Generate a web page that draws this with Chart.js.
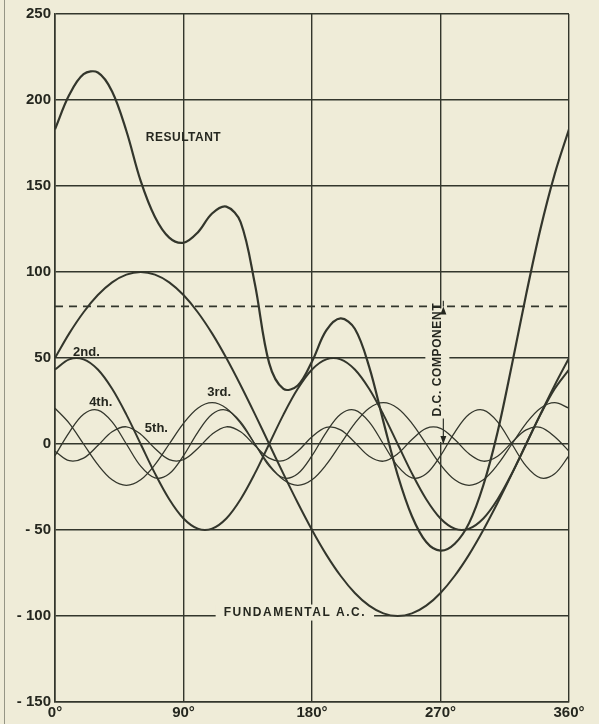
<!DOCTYPE html>
<html>
<head>
<meta charset="utf-8">
<script src="https://cdn.jsdelivr.net/npm/chart.js@4"></script>
<style>
    html, body { margin: 0; padding: 0; background: #efecd8; }
    #wrap { width: 599px; height: 724px; position: relative; }
</style>
</head>
<body>
<div id="wrap"><canvas id="harmonics"></canvas></div>
<script>
// angle in degrees, one sample every 10 degrees
const degrees = [0, 10, 20, 30, 40, 50, 60, 70, 80, 90, 100, 110, 120, 130, 140, 150, 160, 170, 180,
    190, 200, 210, 220, 230, 240, 250, 260, 270, 280, 290, 300, 310, 320, 330, 340, 350, 360];

// values
const fundamental = [50, 64.3, 76.6, 86.6, 94, 98.5, 100, 98.5, 94, 86.6, 76.6, 64.3, 50, 34.2, 17.4, 0,
    -17.4, -34.2, -50, -64.3, -76.6, -86.6, -94, -98.5, -100, -98.5, -94, -86.6, -76.6, -64.3, -50,
    -34.2, -17.4, 0, 17.4, 34.2, 50];
const second = [43.3, 49.2, 49.2, 43.3, 32.1, 17.1, 0, -17.1, -32.1, -43.3, -49.2, -49.2, -43.3, -32.1,
    -17.1, 0, 17.1, 32.1, 43.3, 49.2, 49.2, 43.3, 32.1, 17.1, 0, -17.1, -32.1, -43.3, -49.2, -49.2,
    -43.3, -32.1, -17.1, 0, 17.1, 32.1, 43.3];
const third = [20.8, 12, 0, -12, -20.8, -24, -20.8, -12, 0, 12, 20.8, 24, 20.8, 12, 0, -12, -20.8, -24,
    -20.8, -12, 0, 12, 20.8, 24, 20.8, 12, 0, -12, -20.8, -24, -20.8, -12, 0, 12, 20.8, 24, 20.8];
const fourth = [-6.8, 6.8, 17.3, 19.7, 12.9, 0, -12.9, -19.7, -17.3, -6.8, 6.8, 17.3, 19.7, 12.9, 0,
    -12.9, -19.7, -17.3, -6.8, 6.8, 17.3, 19.7, 12.9, 0, -12.9, -19.7, -17.3, -6.8, 6.8, 17.3, 19.7,
    12.9, 0, -12.9, -19.7, -17.3, -6.8];
const fifth = [-4.2, -9.7, -8.2, -0.9, 7.1, 10, 5.7, -2.6, -9.1, -9.1, -2.6, 5.7, 10, 7.1, -0.9, -8.2,
    -9.7, -4.2, 4.2, 9.7, 8.2, 0.9, -7.1, -10, -5.7, 2.6, 9.1, 9.1, 2.6, -5.7, -10, -7.1, 0.9, 8.2,
    9.7, 4.2, -4.2];
const resultant = [183, 203, 215, 216, 205, 182, 153, 132, 120, 117, 123, 134, 138, 129, 93, 47, 32, 34,
    48, 66, 73, 67, 45, 13, -18, -42, -57, -62, -58, -46, -24, 7, 46, 87, 125, 157, 183];
const dc_level = 80;

const ink = '#33362c';
const paper = '#efecd8';
const label_font = '"Liberation Sans", Arial, sans-serif';

function to_points(values) {
    return degrees.map((d, i) => ({ x: d, y: values[i] }));
}

function curve(label, values, width) {
    return {
        label: label,
        data: to_points(values),
        borderColor: ink,
        borderWidth: width,
        pointRadius: 0,
        fill: false,
        tension: 0.35
    };
}

// paper background and the scanner edge line
const paper_plugin = {
    id: 'paper',
    beforeDraw(chart) {
        const ctx = chart.ctx;
        ctx.save();
        ctx.fillStyle = paper;
        ctx.fillRect(0, 0, chart.width, chart.height);
        ctx.strokeStyle = 'rgba(60, 62, 50, 0.5)';
        ctx.lineWidth = 1;
        ctx.beginPath();
        ctx.moveTo(4.5, 0);
        ctx.lineTo(4.5, chart.height);
        ctx.stroke();
        ctx.restore();
    }
};

const notes = [
    { text: 'RESULTANT', x: 90, y: 178, size: 12, spacing: 0.5 },
    { text: '2nd.', x: 22, y: 53, size: 13, spacing: 0 },
    { text: '4th.', x: 32, y: 24, size: 13, spacing: 0 },
    { text: '5th.', x: 71, y: 9, size: 13, spacing: 0 },
    { text: '3rd.', x: 115, y: 30, size: 13, spacing: 0 },
    { text: 'FUNDAMENTAL A.C.', x: 168, y: -98, size: 12, spacing: 1.5, clear: true }
];
const dc_arrow_at = 272;

// text labels and the D.C. component arrow
const notes_plugin = {
    id: 'notes',
    beforeDatasetsDraw(chart) {
        const ctx = chart.ctx;
        const xs = chart.scales.x;
        const ys = chart.scales.y;
        ctx.save();
        ctx.fillStyle = paper;
        notes.filter(n => n.clear).forEach(n => {
            ctx.font = `bold ${n.size}px ${label_font}`;
            ctx.letterSpacing = `${n.spacing}px`;
            const w = ctx.measureText(n.text).width;
            ctx.fillRect(xs.getPixelForValue(n.x) - w / 2 - 8, ys.getPixelForValue(n.y) - 8, w + 16, 16);
        });
        // gap in the grid where the D.C. arrow sits
        const ax = xs.getPixelForValue(dc_arrow_at);
        ctx.fillRect(ax - 18, ys.getPixelForValue(dc_level) + 2, 24, ys.getPixelForValue(0) - ys.getPixelForValue(dc_level) - 4);
        ctx.restore();
    },
    afterDatasetsDraw(chart) {
        const ctx = chart.ctx;
        const xs = chart.scales.x;
        const ys = chart.scales.y;
        ctx.save();
        ctx.fillStyle = '#25271f';
        ctx.textAlign = 'center';
        ctx.textBaseline = 'middle';
        notes.forEach(n => {
            ctx.font = `bold ${n.size}px ${label_font}`;
            ctx.letterSpacing = `${n.spacing}px`;
            ctx.fillText(n.text, xs.getPixelForValue(n.x), ys.getPixelForValue(n.y));
        });

        // D.C. component arrow
        const ax = xs.getPixelForValue(dc_arrow_at);
        const top = ys.getPixelForValue(dc_level);
        const bottom = ys.getPixelForValue(0);
        const mid = ys.getPixelForValue(dc_level / 2 + 9);
        ctx.font = `bold 12px ${label_font}`;
        ctx.letterSpacing = '0.6px';
        const text = 'D.C. COMPONENT';
        const tw = ctx.measureText(text).width;
        ctx.strokeStyle = ink;
        ctx.lineWidth = 1.2;
        ctx.beginPath();
        ctx.moveTo(ax, top);
        ctx.lineTo(ax, mid - tw / 2 - 2);
        ctx.moveTo(ax, mid + tw / 2 + 2);
        ctx.lineTo(ax, bottom);
        ctx.stroke();
        ctx.beginPath();
        ctx.moveTo(ax, top);
        ctx.lineTo(ax - 3, top + 8);
        ctx.lineTo(ax + 3, top + 8);
        ctx.closePath();
        ctx.moveTo(ax, bottom);
        ctx.lineTo(ax - 3, bottom - 8);
        ctx.lineTo(ax + 3, bottom - 8);
        ctx.closePath();
        ctx.fill();

        ctx.translate(ax - 6, mid);
        ctx.rotate(-Math.PI / 2);
        ctx.fillText(text, 0, 0);
        ctx.restore();
    }
};

new Chart(document.getElementById('harmonics'), {
    type: 'line',
    data: {
        datasets: [
            curve('5th', fifth, 1.3),
            curve('4th', fourth, 1.3),
            curve('3rd', third, 1.3),
            curve('2nd', second, 2),
            curve('Fundamental A.C.', fundamental, 2),
            {
                label: 'D.C. component',
                data: [{ x: 0, y: dc_level }, { x: 360, y: dc_level }],
                borderColor: ink,
                borderWidth: 1.6,
                borderDash: [8, 6],
                pointRadius: 0
            },
            curve('Resultant', resultant, 2.2)
        ]
    },
    options: {
        responsive: true,
        maintainAspectRatio: false,
        animation: false,
        layout: {
            padding: { left: 0, right: 30, top: 14, bottom: 0 }
        },
        scales: {
            x: {
                type: 'linear',
                min: 0,
                max: 360,
                afterFit: (scale) => { scale.height = 22; },
                ticks: {
                    stepSize: 90,
                    padding: 2,
                    color: '#25271f',
                    font: { family: label_font, size: 15, weight: 'bold' },
                    callback: (value) => `${value}°`
                },
                grid: { color: ink, lineWidth: 1.4, drawTicks: false },
                border: { color: ink, width: 1.6 }
            },
            y: {
                min: -150,
                max: 250,
                afterFit: (scale) => { scale.width = 55; },
                ticks: {
                    stepSize: 50,
                    padding: 4,
                    color: '#25271f',
                    font: { family: label_font, size: 15, weight: 'bold' },
                    callback: (value) => value < 0 ? `- ${-value}` : `${value}`
                },
                grid: { color: ink, lineWidth: 1.4, drawTicks: false },
                border: { color: ink, width: 1.6 }
            }
        },
        plugins: {
            legend: { display: false },
            tooltip: { enabled: false }
        }
    },
    plugins: [paper_plugin, notes_plugin]
});
</script>
</body>
</html>
